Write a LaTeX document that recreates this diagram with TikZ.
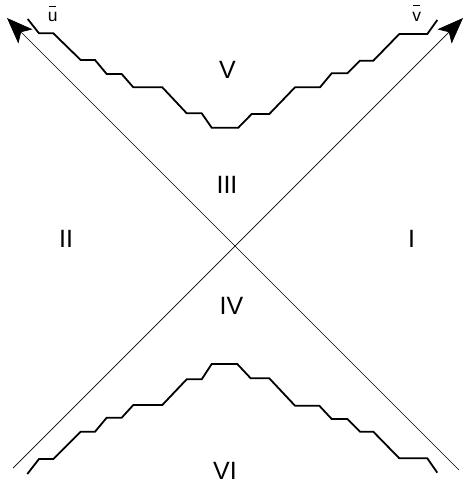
\documentclass[tikz,border=0pt]{standalone}
\usepackage{fontspec}
\setmainfont{Liberation Sans}
\usetikzlibrary{arrows.meta}
\newcommand\withbar[1]{\ooalign{#1\cr\hidewidth\raisebox{0.85em}{\rule{0.42em}{0.075em}}\hidewidth\cr}}
\tikzset{
  region/.style={inner sep=0pt, anchor=base, font=\fontsize{25}{30}\selectfont},
  axislabel/.style={inner sep=0pt, anchor=base, font=\fontsize{17.5}{21}\selectfont},
  axis/.style={line width=0.7pt, -{Stealth[length=26pt, width=20pt, inset=6pt]}},
  stairs/.style={line width=1.8pt, line join=miter}
}
\begin{document}
\begin{tikzpicture}[x=1pt, y=-1pt]
  \useasboundingbox (0,0) rectangle (471,485);

  % Axes
  \coordinate (uend) at (7,18);
  \coordinate (vend) at (463,18);
  \coordinate (ustart) at (459,470);
  \coordinate (vstart) at (13,468);
  \draw[axis] (ustart) -- (uend);
  \draw[axis] (vstart) -- (vend);

  % Staircase above
  \draw[stairs] (27.7,19) -- (39,33.3) -- (53.3,33.3) -- (80.7,60) -- (95,60)
    -- (106.7,74) -- (121.7,74) -- (133.3,87.3) -- (162.3,87.3) -- (186.7,113.3)
    -- (201.7,113.3) -- (211.7,127.7) -- (238.3,127.7) -- (251.7,114) -- (269.3,114)
    -- (295,87.3) -- (320,87.3) -- (331.7,73.3) -- (347.3,73.3) -- (360,60.7)
    -- (373.3,60.7) -- (399.3,34) -- (427.3,34) -- (437.3,20);

  % Staircase below
  \draw[stairs] (27.3,474) -- (39,459) -- (53.3,459) -- (80.7,431.7) -- (95,431.7)
    -- (106.7,417.7) -- (121.7,417.7) -- (133.3,405) -- (162.3,405) -- (186.7,379.3)
    -- (201.7,379.3) -- (211.7,364) -- (237.3,364) -- (250.7,378.3) -- (269.3,378.3)
    -- (295,405.7) -- (319.3,405.7) -- (331.7,419) -- (347.3,419) -- (360,431.7)
    -- (373.3,431.7) -- (399.3,458.3) -- (427.3,458.3) -- (437.3,472.7);

  % Axis labels
  \node[axislabel] (ulabel) at (52.8,21.7) {\withbar{u}};
  \node[axislabel] (vlabel) at (416.7,21.2) {\withbar{v}};

  % Regions
  \node[region] (regV) at (227.5,78.3) {V};
  \node[region] (regIII) at (227,193.3) {III};
  \node[region] (regII) at (66,247) {II};
  \node[region] (regI) at (411.5,247) {I};
  \node[region] (regIV) at (231.5,314) {IV};
  \node[region] (regVI) at (225,479.3) {VI};
\end{tikzpicture}
\end{document}
